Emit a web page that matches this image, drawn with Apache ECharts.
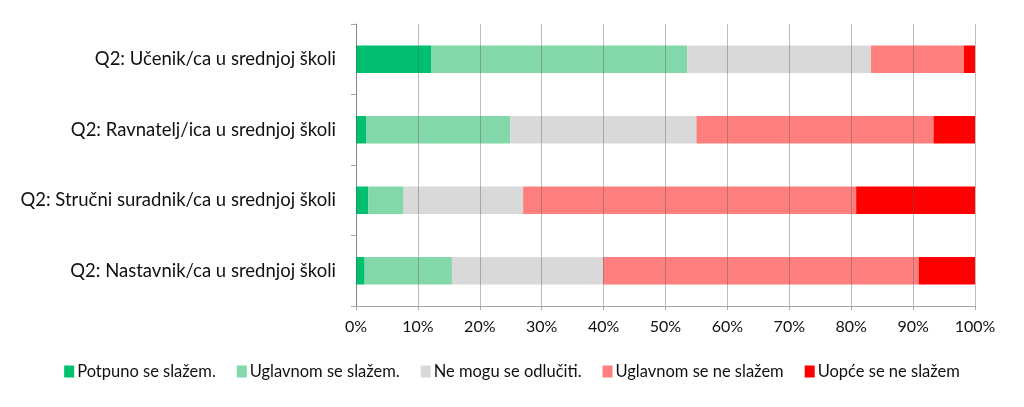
<!DOCTYPE html>
<html><head><meta charset="utf-8">
<script src="https://cdn.jsdelivr.net/npm/echarts@6/dist/echarts.min.js"></script>
<style>html,body{margin:0;padding:0;background:#fff}#c{width:1024px;height:407px}</style>
</head><body><div id="c"></div>
<script>
const categories = [
  'Q2: Učenik/ca u srednjoj školi',
  'Q2: Ravnatelj/ica u srednjoj školi',
  'Q2: Stručni suradnik/ca u srednjoj školi',
  'Q2: Nastavnik/ca u srednjoj školi'
];
const seriesNames = ['Potpuno se slažem.', 'Uglavnom se slažem.', 'Ne mogu se odlučiti.', 'Uglavnom se ne slažem', 'Uopće se ne slažem'];
const potpuno   = [12.2, 1.7, 2.0, 1.4];
const uglavnom  = [41.3, 23.2, 5.7, 14.1];
const neMogu    = [29.7, 30.1, 19.3, 24.4];
const uglavnomNe= [15.0, 38.3, 53.8, 51.0];
const uopce     = [1.8, 6.7, 19.2, 9.1];
const tickLabels = ['0%','10%','20%','30%','40%','50%','60%','70%','80%','90%','100%'];
const colors = ['#00BF6F', '#82D8A8', '#D9D9D9', '#FF7F7F', '#FF0000'];
const values = [potpuno, uglavnom, neMogu, uglavnomNe, uopce];

const chart = echarts.init(document.getElementById('c'), null, {renderer: 'canvas'});
const font = 'Lato, "Open Sans", sans-serif';
chart.setOption({
  animation: false,
  textStyle: {fontFamily: font},
  grid: {left: 356, right: 49, top: 24, bottom: 101, containLabel: false},
  legend: {
    bottom: 22, left: 'center',
    itemWidth: 10, itemHeight: 12, itemGap: 21,
    icon: 'rect',
    textStyle: {fontSize: 16.5, color: '#111', fontFamily: font, padding: [0,0,0,-2]},
    data: seriesNames
  },
  xAxis: {
    type: 'value', min: 0, max: 100, interval: 10, z: 3,
    axisLabel: {formatter: v => tickLabels[Math.round(v/10)], fontSize: 16, color: '#111', margin: 13, fontFamily: font},
    axisLine: {show: true, lineStyle: {color: '#a6a6a6', width: 1}},
    axisTick: {show: true, length: 4, lineStyle: {color: '#a6a6a6'}},
    splitLine: {show: true, lineStyle: {color: 'rgba(90,90,90,0.4)', width: 1}}
  },
  yAxis: {
    type: 'category', data: categories, inverse: true,
    axisLine: {show: true, lineStyle: {color: '#a6a6a6'}},
    axisTick: {show: true, length: 5, lineStyle: {color: '#a6a6a6'}},
    axisLabel: {fontSize: 18.5, color: '#111', margin: 20, fontFamily: font}
  },
  series: seriesNames.map((n, i) => ({
    name: n, type: 'bar', stack: 'total', barWidth: '39%',
    data: values[i],
    itemStyle: {color: colors[i]}
  }))
});
</script></body></html>
